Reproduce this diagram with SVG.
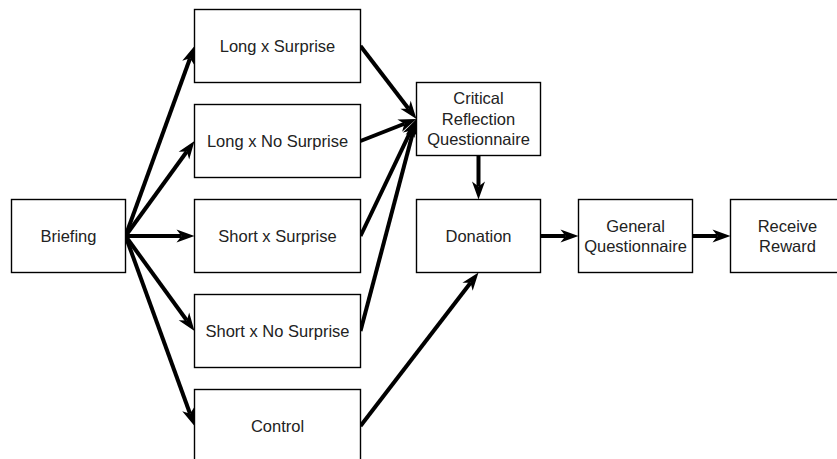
<svg xmlns="http://www.w3.org/2000/svg" width="837" height="459" viewBox="0 0 837 459">
<style>
.box{fill:#fff;stroke:#000;stroke-width:1.4}
.t{font-family:"Liberation Sans",Arial,sans-serif;font-size:16.5px;fill:#222;text-anchor:middle}
.c{fill:none;stroke:#000;stroke-width:4;marker-end:url(#ah)}
</style>
<defs>
<marker id="ah" markerUnits="userSpaceOnUse" markerWidth="20" markerHeight="16" refX="5" refY="0" viewBox="0 -8 20 16" orient="auto" overflow="visible">
<path d="M0,-6.5 L18,0 L0,6.5 L5,0 Z" fill="#000"/>
</marker>
</defs>
<rect width="837" height="459" fill="#fff"/>
<g id="connectors">
<line class="c" x1="125.5" y1="236" x2="190.06" y2="58.22"/>
<line class="c" x1="125.5" y1="236" x2="186.86" y2="151.52"/>
<line class="c" x1="125.5" y1="236" x2="181.5" y2="236"/>
<line class="c" x1="125.5" y1="236" x2="186.86" y2="320.48"/>
<line class="c" x1="125.5" y1="236" x2="190.06" y2="413.78"/>
<line class="c" x1="360.5" y1="46" x2="408.59" y2="108.68"/>
<line class="c" x1="360.5" y1="141" x2="404.4" y2="123.75"/>
<line class="c" x1="360.5" y1="236" x2="410.89" y2="130.73"/>
<line class="c" x1="360.5" y1="331" x2="413.18" y2="131.57"/>
<line class="c" x1="360.5" y1="426" x2="470.58" y2="282.81"/>
<line class="c" x1="478.5" y1="155.5" x2="478.5" y2="186.5"/>
<line class="c" x1="540.5" y1="236" x2="565.5" y2="236"/>
<line class="c" x1="692.5" y1="236" x2="717.5" y2="236"/>
</g>
<g id="briefing"><rect class="box" x="11.5" y="199.5" width="114" height="73"/><text class="t" x="68.5" y="242">Briefing</text></g>
<g id="long-surprise"><rect class="box" x="194.5" y="9.5" width="166" height="73"/><text class="t" x="277.5" y="52">Long x Surprise</text></g>
<g id="long-nosurprise"><rect class="box" x="194.5" y="104.5" width="166" height="73"/><text class="t" x="277.5" y="147">Long x No Surprise</text></g>
<g id="short-surprise"><rect class="box" x="194.5" y="199.5" width="166" height="73"/><text class="t" x="277.5" y="242">Short x Surprise</text></g>
<g id="short-nosurprise"><rect class="box" x="194.5" y="294.5" width="166" height="73"/><text class="t" x="277.5" y="337">Short x No Surprise</text></g>
<g id="control"><rect class="box" x="194.5" y="389.5" width="166" height="73"/><text class="t" x="277.5" y="432">Control</text></g>
<g id="critical"><rect class="box" x="416.5" y="82.5" width="124" height="73"/><text class="t" x="478.5" y="104">Critical</text><text class="t" x="478.5" y="124.5">Reflection</text><text class="t" x="478.5" y="145">Questionnaire</text></g>
<g id="donation"><rect class="box" x="416.5" y="199.5" width="124" height="73"/><text class="t" x="478.5" y="242">Donation</text></g>
<g id="general"><rect class="box" x="578.5" y="199.5" width="114" height="73"/><text class="t" x="635.5" y="232">General</text><text class="t" x="635.5" y="252">Questionnaire</text></g>
<g id="reward"><rect class="box" x="730.5" y="199.5" width="114" height="73"/><text class="t" x="787.5" y="232">Receive</text><text class="t" x="787.5" y="252">Reward</text></g>
</svg>
